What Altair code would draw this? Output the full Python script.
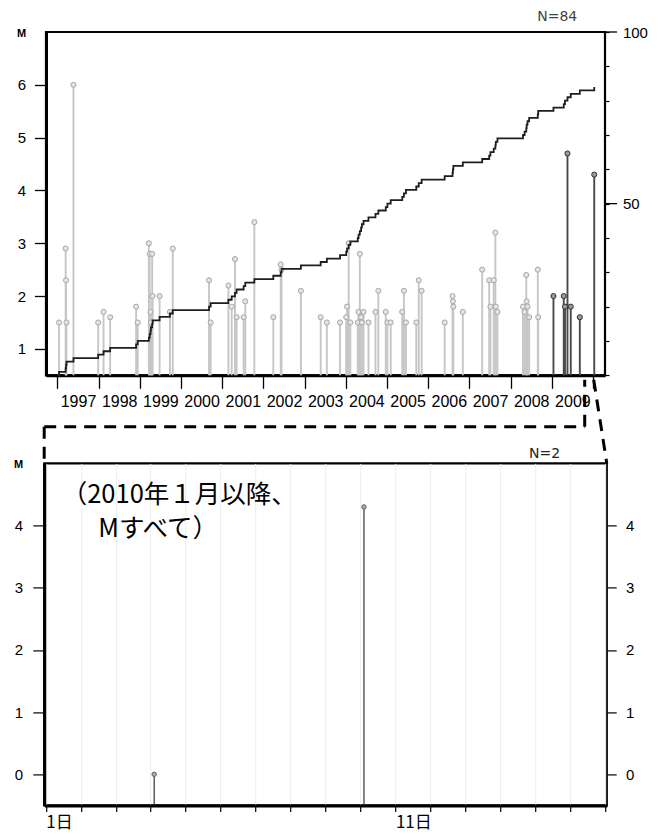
import altair as alt
import pandas as pd

# ---------------- data ----------------
# top panel: events since 1997 (decimal year, magnitude)
years = [1997.04, 1997.20, 1997.21, 1997.22, 1997.39, 1997.99, 1998.12, 1998.28, 1998.91, 1998.95,
         1999.22, 1999.24, 1999.26, 1999.27, 1999.30, 1999.31, 1999.48, 1999.73, 1999.80,
         2000.68, 2000.72,
         2001.15, 2001.23, 2001.31, 2001.35, 2001.52, 2001.56, 2001.78,
         2002.24, 2002.42, 2002.44, 2002.91,
         2003.39, 2003.54, 2003.86,
         2004.01, 2004.03, 2004.07, 2004.11, 2004.29, 2004.31, 2004.34, 2004.37, 2004.39, 2004.43,
         2004.55, 2004.72, 2004.79, 2004.97,
         2005.01, 2005.09, 2005.37, 2005.41, 2005.46, 2005.71, 2005.77, 2005.84,
         2006.40, 2006.59, 2006.60, 2006.61, 2006.84,
         2007.31, 2007.48, 2007.51, 2007.59, 2007.63, 2007.64, 2007.68,
         2008.30, 2008.34, 2008.38, 2008.39, 2008.41, 2008.45, 2008.66, 2008.67,
         2009.04, 2009.29, 2009.32, 2009.38, 2009.46, 2009.68,
         2010.03]
mags = [1.5, 2.9, 2.3, 1.5, 6.0, 1.5, 1.7, 1.6, 1.8, 1.5,
        3.0, 2.8, 1.7, 1.5, 2.8, 2.0, 2.0, 1.7, 2.9,
        2.3, 1.5,
        2.2, 1.8, 2.7, 1.6, 1.6, 1.9, 3.4,
        1.6, 2.6, 2.5, 2.1,
        1.6, 1.5, 1.5,
        1.6, 1.8, 3.0, 1.5, 1.5, 1.7, 2.8, 1.6, 1.5, 1.7,
        1.5, 1.7, 2.1, 1.7,
        1.5, 1.5, 1.7, 2.1, 1.5, 1.5, 2.3, 2.1,
        1.5, 2.0, 1.9, 1.8, 1.7,
        2.5, 2.3, 1.8, 2.3, 3.2, 1.8, 1.7,
        1.8, 1.7, 2.4, 1.9, 1.8, 1.6, 2.5, 1.6,
        2.0, 2.0, 1.8, 4.7, 1.8, 1.6,
        4.3]
recent_from = 2009.0
count_start = 1997.0
year_ticks = list(range(1997, 2011))
m_ticks_top = [1, 2, 3, 4, 5, 6]
count_ticks = list(range(0, 101, 10))
count_major = [50, 100]

# bottom panel: events since January 2010 (day of month, magnitude)
days2010 = [4.1, 10.1]
mags2010 = [0.0, 4.3]
day_ticks = list(range(1, 18))
m_ticks_bottom = [0, 1, 2, 3, 4]

note_line1 = "（2010年１月以降、"
note_line2 = "Mすべて）"

# ---------------- tables ----------------
ev = pd.DataFrame({"t": years, "M": mags})
ev["period"] = ["recent" if t >= recent_from else "earlier" for t in years]
cum = pd.DataFrame({"t": [count_start] + years, "n": list(range(len(years) + 1))})
ev2 = pd.DataFrame({"d": days2010, "M": mags2010})
one = pd.DataFrame({"k": [0]})
majors_df = pd.DataFrame({"n": count_major})

LAB = "Liberation Sans"
CJK = "'Liberation Sans Narrow', 'Noto Sans CJK JP', sans-serif"

# ---------------- top panel ----------------
TW, TH = 559, 343.3
tx = alt.X("t:Q",
           scale=alt.Scale(domain=[1996.723, 2010.291], nice=False, zero=False),
           axis=alt.Axis(values=year_ticks, format="d",
                         labelExpr="datum.value < 2010 ? datum.label : ''",
                         labelOffset=20.6, tickSize=13, tickWidth=1.3, tickColor="black",
                         labelFont=LAB, labelFontSize=16, labelColor="black", labelPadding=5.5,
                         labelFlush=False, labelOverlap=False, grid=False,
                         domainWidth=3, domainColor="black", title=None))
ty = alt.Y("M:Q",
           scale=alt.Scale(domain=[0.5, 7], nice=False, zero=False),
           axis=alt.Axis(values=m_ticks_top, format="d", tickSize=11.6, tickWidth=1.3,
                         tickColor="black", labelFont=LAB, labelFontSize=15, labelColor="black",
                         labelPadding=8.7, grid=False, domainWidth=3, domainColor="black",
                         title=None))
cy = alt.Y("n:Q",
           scale=alt.Scale(domain=[0, 100], nice=False),
           axis=alt.Axis(orient="right", values=count_ticks,
                         labelExpr="datum.value == 50 || datum.value == 100 ? datum.label : ''",
                         tickSize=4, tickWidth=1.2, tickColor="black", labelFont=LAB,
                         labelFontSize=15, labelColor="black", labelPadding=13.4,
                         domain=False, grid=False, title=None))
pdom = ["earlier", "recent"]

stems = alt.Chart(ev).mark_rule(strokeWidth=1.9).encode(
    x=tx, y=ty, y2=alt.datum(0.5),
    color=alt.Color("period:N", scale=alt.Scale(domain=pdom, range=["#c6c6c6", "#4a4a4a"]),
                    legend=None))
pts = alt.Chart(ev).mark_circle(size=26, strokeWidth=1, opacity=1).encode(
    x=tx, y=ty,
    fill=alt.Fill("period:N", scale=alt.Scale(domain=pdom, range=["#e4e4e4", "#9a9a9a"]),
                  legend=None),
    stroke=alt.Stroke("period:N", scale=alt.Scale(domain=pdom, range=["#a6a6a6", "#2f2f2f"]),
                      legend=None))
line = alt.Chart(cum).mark_line(interpolate="step-after", color="#1e1e1e",
                                strokeWidth=1.8).encode(x=tx, y=cy)
majors = alt.Chart(majors_df).mark_rule(color="black", strokeWidth=1.3).encode(
    y=cy, x=alt.value(TW), x2=alt.value(TW + 12))

m_top = alt.Chart(one).mark_text(text="M", font=LAB, fontWeight="bold", fontSize=11,
                                 color="black").encode(x=alt.value(-24.3), y=alt.value(1.7))
n_top = alt.Chart(one).mark_text(text=f"N={len(years)}", font="DejaVu Sans", fontSize=14,
                                 color="#444").encode(x=alt.value(511.2), y=alt.value(-15))
anchor = alt.Chart(one).mark_rule(strokeOpacity=0, strokeWidth=1).encode(
    x=alt.value(-36.3), x2=alt.value(-30), y=alt.value(-22), y2=alt.value(-22))

top = alt.layer(
    alt.layer(stems, pts),
    alt.layer(line, majors),
    m_top, n_top, anchor,
).resolve_scale(y="independent").properties(width=TW, height=TH)

# ---------------- bottom panel ----------------
BW, BH = 562.6, 342
bx = alt.X("d:Q",
           scale=alt.Scale(domain=[0.954, 17.046], nice=False, zero=False),
           axis=alt.Axis(values=day_ticks,
                         labelExpr="datum.value == 1 || datum.value == 11 ? datum.value + '日' : ''",
                         tickSize=6, tickWidth=1.2, tickColor="black",
                         grid=True, gridColor="#ededed", gridWidth=1,
                         labelAlign="left", labelFont="Noto Sans CJK JP", labelFontSize=17,
                         labelColor="black", labelPadding=3.5, labelFlush=False,
                         labelOverlap=False, domainWidth=3, domainColor="black", title=None))
bys = alt.Scale(domain=[-0.5, 5], nice=False, zero=False)
by_left = alt.Y("M:Q", scale=bys,
                axis=alt.Axis(values=m_ticks_bottom, format="d", tickSize=11.4, tickWidth=1.2,
                              tickColor="black", labelFont=LAB, labelFontSize=15,
                              labelColor="black", labelPadding=10.3, grid=False,
                              domainWidth=3, domainColor="black", title=None))
by_right = alt.Y("M:Q", scale=bys,
                 axis=alt.Axis(orient="right", values=m_ticks_bottom, format="d", tickSize=9.4,
                               tickWidth=1.2, tickColor="black", labelFont=LAB,
                               labelFontSize=15, labelColor="black", labelPadding=9.3,
                               domain=False, grid=False, title=None))

stems2 = alt.Chart(ev2).mark_rule(color="#333", strokeWidth=1.2).encode(
    x=bx, y=by_left, y2=alt.datum(-0.5))
pts2 = alt.Chart(ev2).mark_circle(size=20, fill="#a8a8a8", stroke="#666", strokeWidth=1,
                                  opacity=1).encode(x=bx, y=by_right)

m_bot = alt.Chart(one).mark_text(text="M", font=LAB, fontWeight="bold", fontSize=11,
                                 color="black").encode(x=alt.value(-25.5), y=alt.value(2))
n_bot = alt.Chart(one).mark_text(text=f"N={len(days2010)}", font="DejaVu Sans", fontSize=14,
                                 color="#222").encode(x=alt.value(500.3), y=alt.value(-9))
note1 = alt.Chart(one).mark_text(text=note_line1, align="left", baseline="middle", font=CJK,
                                 fontSize=25.5, color="black").encode(
    x=alt.value(17.5), y=alt.value(31.8))
note2 = alt.Chart(one).mark_text(text=note_line2, align="left", baseline="middle", font=CJK,
                                 fontSize=25.5, color="black").encode(
    x=alt.value(54), y=alt.value(66))

dash = dict(color="black", strokeWidth=3, strokeDash=[12, 8])
seg_a = alt.Chart(one).mark_rule(**dash).encode(
    x=alt.value(0), x2=alt.value(0), y=alt.value(-36.7), y2=alt.value(0))
seg_b = alt.Chart(one).mark_rule(**dash).encode(
    x=alt.value(0), x2=alt.value(540.5), y=alt.value(-36.7), y2=alt.value(-36.7))
seg_c = alt.Chart(one).mark_rule(**dash).encode(
    x=alt.value(540.5), x2=alt.value(540.5), y=alt.value(-36.7), y2=alt.value(-83.7))
seg_d = alt.Chart(one).mark_rule(**dash).encode(
    x=alt.value(549.5), x2=alt.value(BW), y=alt.value(-83.7), y2=alt.value(0))

bottom = alt.layer(
    stems2, pts2, m_bot, n_bot, note1, note2, seg_a, seg_b, seg_c, seg_d
).resolve_scale(y="independent").properties(width=BW, height=BH)

chart = alt.vconcat(top, bottom, spacing=87.4, bounds="flush", center=True).configure_view(
    stroke="black", strokeWidth=2.2
).properties(padding=0)

chart.save("out.html", embed_options={"renderer": "svg", "actions": False})
